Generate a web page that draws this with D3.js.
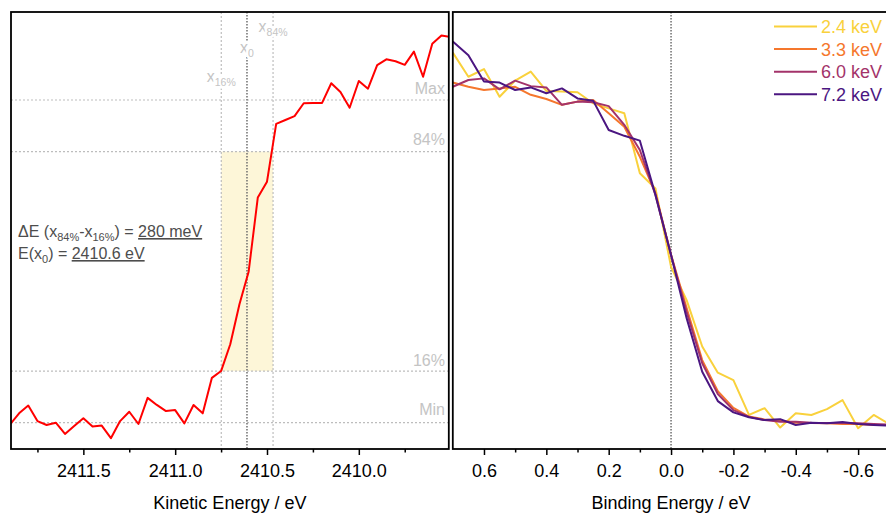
<!DOCTYPE html>
<html>
<head>
<meta charset="utf-8">
<script src="https://cdn.jsdelivr.net/npm/d3@7"></script>
<style>
  body { margin: 0; background: #fff; }
  svg { display: block; font-family: "Liberation Sans", Arial, sans-serif; }
</style>
</head>
<body>
<div id="chart"></div>
<script>
// ---- left panel: Fermi edge in kinetic energy (normalised, Min = 0, Max = 1) ----
const kineticEnergy = [2411.90, 2411.85, 2411.80, 2411.75, 2411.70, 2411.65, 2411.60, 2411.55, 2411.50, 2411.45,
    2411.40, 2411.35, 2411.30, 2411.25, 2411.20, 2411.15, 2411.10, 2411.05, 2411.00, 2410.95,
    2410.90, 2410.85, 2410.80, 2410.75, 2410.70, 2410.65, 2410.60, 2410.55, 2410.50, 2410.45,
    2410.40, 2410.35, 2410.30, 2410.25, 2410.20, 2410.15, 2410.10, 2410.05, 2410.00, 2409.95,
    2409.90, 2409.85, 2409.80, 2409.75, 2409.70, 2409.65, 2409.60, 2409.55, 2409.50];
const kineticIntensity = [-0.006, 0.029, 0.053, 0.005, -0.007, 0.000, -0.035, -0.010, 0.014, -0.012,
    -0.009, -0.048, 0.005, 0.034, -0.004, 0.077, 0.055, 0.036, 0.039, -0.002,
    0.055, 0.029, 0.139, 0.160, 0.243, 0.367, 0.468, 0.698, 0.747, 0.926,
    0.938, 0.950, 0.990, 0.991, 0.991, 1.052, 1.025, 0.976, 1.059, 1.035,
    1.108, 1.126, 1.120, 1.109, 1.150, 1.072, 1.174, 1.200, 1.195];

const levelNames = ["Max", "84%", "16%", "Min"];
const levelValues = [1, 0.84, 0.16, 0];
const edgeSubs = ["16%", "0", "84%"];
const edgeEnergies = [2410.749, 2410.609, 2410.467];

const keTicks = [2411.5, 2411.0, 2410.5, 2410.0];
const keMinorTicks = [2411.75, 2411.25, 2410.75, 2410.25, 2409.75];

// ---- right panel: edges vs binding energy for four photon energies ----
const bindingEnergy = [0.70, 0.65, 0.60, 0.55, 0.50, 0.45, 0.40, 0.35, 0.30, 0.25,
    0.20, 0.15, 0.10, 0.05, 0.00, -0.05, -0.10, -0.15, -0.20, -0.25,
    -0.30, -0.35, -0.40, -0.45, -0.50, -0.55, -0.60, -0.65, -0.70];
const edge24 = [1.147, 1.072, 1.096, 1.010, 1.060, 1.088, 1.028, 1.026, 1.024, 0.990,
    0.974, 0.959, 0.773, 0.726, 0.483, 0.380, 0.236, 0.155, 0.132, 0.024,
    0.045, -0.015, 0.029, 0.024, 0.042, 0.070, -0.017, 0.024, -0.004];
const edge33 = [1.054, 1.041, 1.031, 1.036, 1.041, 1.016, 1.003, 0.985, 0.995, 1.000,
    0.959, 0.917, 0.824, 0.712, 0.520, 0.355, 0.194, 0.098, 0.046, 0.019,
    0.010, 0.006, 0.000, -0.001, -0.002, -0.004, -0.004, -0.007, -0.007];
const edge60 = [1.041, 1.062, 1.067, 1.033, 1.060, 1.043, 1.039, 0.985, 0.995, 0.993,
    0.981, 0.923, 0.845, 0.706, 0.520, 0.343, 0.184, 0.089, 0.039, 0.018,
    0.008, 0.003, 0.003, 0.000, -0.001, -0.001, -0.002, -0.004, -0.006];
const edge72 = [1.181, 1.139, 1.057, 1.054, 1.031, 1.039, 1.021, 1.036, 1.005, 0.998,
    0.907, 0.889, 0.874, 0.706, 0.520, 0.324, 0.158, 0.067, 0.032, 0.017,
    0.008, 0.011, -0.007, 0.000, -0.002, 0.002, -0.004, -0.007, -0.009];

const seriesLabels = ["2.4 keV", "3.3 keV", "6.0 keV", "7.2 keV"];
const seriesValues = [edge24, edge33, edge60, edge72];
const seriesColors = ["#f9d13c", "#f5772d", "#a3336a", "#4b1681"];

const beTicks = [0.6, 0.4, 0.2, 0.0, -0.2, -0.4, -0.6];
const beMinorTicks = [0.5, 0.3, 0.1, -0.1, -0.3, -0.5];

// ---- layout ----
const width = 886;
const height = 515;
const plotTop = 12, plotBottom = 449;
const leftPanel = { x0: 11, x1: 448.8 };
const rightPanel = { x0: 452.8, x1: 889.3 };

const svg = d3.select("#chart").append("svg")
    .attr("width", width)
    .attr("height", height);

const xKE = d3.scaleLinear().domain([2411.894, 2409.51]).range([leftPanel.x0, leftPanel.x1]);
const xBE = d3.scaleLinear().domain([0.7, -0.7]).range([rightPanel.x0, rightPanel.x1]);
const y = d3.scaleLinear().domain([-0.0815, 1.2727]).range([plotBottom, plotTop]);

const defs = svg.append("defs");
defs.append("clipPath").attr("id", "clipL").append("rect")
    .attr("x", leftPanel.x0).attr("y", plotTop)
    .attr("width", leftPanel.x1 - leftPanel.x0).attr("height", plotBottom - plotTop);
defs.append("clipPath").attr("id", "clipR").append("rect")
    .attr("x", rightPanel.x0).attr("y", plotTop)
    .attr("width", rightPanel.x1 - rightPanel.x0).attr("height", plotBottom - plotTop);

const lightGrey = "#bdbdbd";
const darkGrey = "#6e6e6e";

// ---- left panel ----
const gL = svg.append("g").attr("clip-path", "url(#clipL)");

// shaded 16%-84% box
gL.append("rect")
    .attr("x", xKE(edgeEnergies[0]))
    .attr("width", xKE(edgeEnergies[2]) - xKE(edgeEnergies[0]))
    .attr("y", y(levelValues[1]))
    .attr("height", y(levelValues[2]) - y(levelValues[1]))
    .attr("fill", "#fdf6d8");

// horizontal reference levels
gL.selectAll("line.level")
    .data(levelValues)
    .enter().append("line")
    .attr("class", "level")
    .attr("x1", leftPanel.x0).attr("x2", leftPanel.x1)
    .attr("y1", d => y(d)).attr("y2", d => y(d))
    .attr("stroke", lightGrey).attr("stroke-width", 1.2)
    .attr("stroke-dasharray", "2,2");

// vertical edge markers
gL.selectAll("line.edge")
    .data(edgeEnergies)
    .enter().append("line")
    .attr("class", "edge")
    .attr("x1", d => xKE(d)).attr("x2", d => xKE(d))
    .attr("y1", plotTop).attr("y2", plotBottom)
    .attr("stroke", (d, i) => i === 1 ? darkGrey : lightGrey)
    .attr("stroke-width", (d, i) => i === 1 ? 1.5 : 1.2)
    .attr("stroke-dasharray", (d, i) => i === 1 ? "1.5,1.5" : "2,2");

// level labels
const levelOffset = [-6, -7, -5, -8];
svg.selectAll("text.level")
    .data(levelNames)
    .enter().append("text")
    .attr("class", "level")
    .attr("x", 445)
    .attr("y", (d, i) => y(levelValues[i]) + levelOffset[i])
    .attr("text-anchor", "end")
    .attr("font-size", 16)
    .attr("fill", "#c4c4c4")
    .text(d => d);

// edge labels x_16%, x_0, x_84% with a white halo that cuts the dotted lines
const edgeLabelY = [81.7, 52.7, 32.3];
edgeSubs.forEach((s, i) => {
    const t = svg.append("text")
        .attr("x", xKE(edgeEnergies[i]))
        .attr("y", edgeLabelY[i])
        .attr("text-anchor", "middle")
        .attr("fill", "#c4c4c4")
        .attr("stroke", "#fff").attr("stroke-width", 5)
        .attr("paint-order", "stroke")
        .attr("font-size", 16);
    t.append("tspan").text("x");
    t.append("tspan").attr("font-size", 10.5).attr("dy", 4).text(s);
});

// the red edge
const line = d3.line()
    .x((d, i) => xKE(kineticEnergy[i]))
    .y(d => y(d));

gL.append("path")
    .datum(kineticIntensity)
    .attr("fill", "none")
    .attr("stroke", "#ff0000")
    .attr("stroke-width", 2)
    .attr("stroke-linejoin", "round")
    .attr("d", line);

// result text
const note = svg.append("g").attr("fill", "#4d4d4d").attr("font-size", 16);
const t1 = note.append("text").attr("x", 18).attr("y", 237);
t1.append("tspan").text("\u0394E (x");
t1.append("tspan").attr("font-size", 11).attr("dy", 4).text("84%");
t1.append("tspan").attr("dy", -4).text("-x");
t1.append("tspan").attr("font-size", 11).attr("dy", 4).text("16%");
t1.append("tspan").attr("dy", -4).text(") = ");
t1.append("tspan").style("text-decoration", "underline").text("280 meV");

const t2 = note.append("text").attr("x", 18).attr("y", 259);
t2.append("tspan").text("E(x");
t2.append("tspan").attr("font-size", 11).attr("dy", 4).text("0");
t2.append("tspan").attr("dy", -4).text(") = ");
t2.append("tspan").style("text-decoration", "underline").text("2410.6 eV");

// ---- right panel ----
const gR = svg.append("g").attr("clip-path", "url(#clipR)");

gR.append("line")
    .attr("x1", xBE(0)).attr("x2", xBE(0))
    .attr("y1", plotTop).attr("y2", plotBottom)
    .attr("stroke", darkGrey).attr("stroke-width", 1.5)
    .attr("stroke-dasharray", "1.5,1.5");

const lineBE = d3.line()
    .x((d, i) => xBE(bindingEnergy[i]))
    .y(d => y(d));

gR.selectAll("path.series")
    .data(seriesValues)
    .enter().append("path")
    .attr("class", "series")
    .attr("fill", "none")
    .attr("stroke", (d, i) => seriesColors[i])
    .attr("stroke-width", 2)
    .attr("stroke-linejoin", "round")
    .attr("d", lineBE);

// legend
const legend = svg.append("g").attr("font-size", 18);
seriesLabels.forEach((s, i) => {
    const ly = 26.5 + i * 22.6;
    legend.append("line")
        .attr("x1", 774).attr("x2", 817)
        .attr("y1", ly).attr("y2", ly)
        .attr("stroke", seriesColors[i]).attr("stroke-width", 2);
    legend.append("text")
        .attr("x", 821).attr("y", ly)
        .attr("dy", "0.36em")
        .attr("fill", seriesColors[i])
        .text(s);
});

// ---- axes ----
function styleAxis(g) {
    g.select(".domain").remove();
    g.selectAll("line").attr("stroke", "#000").attr("stroke-width", 1.5);
    g.selectAll("text")
        .attr("font-size", 18)
        .attr("font-family", "'Liberation Sans', Arial, sans-serif")
        .attr("fill", "#000");
}

svg.append("g")
    .attr("transform", `translate(0,${plotBottom})`)
    .call(d3.axisBottom(xKE).tickValues(keTicks).tickFormat(d => d.toFixed(1))
        .tickSize(6).tickSizeOuter(0).tickPadding(9))
    .call(styleAxis);
svg.append("g")
    .attr("transform", `translate(0,${plotBottom})`)
    .call(d3.axisBottom(xKE).tickValues(keMinorTicks).tickFormat("").tickSize(3.5).tickSizeOuter(0))
    .call(styleAxis);

svg.append("g")
    .attr("transform", `translate(0,${plotBottom})`)
    .call(d3.axisBottom(xBE).tickValues(beTicks).tickFormat(d => d.toFixed(1))
        .tickSize(6).tickSizeOuter(0).tickPadding(9))
    .call(styleAxis);
svg.append("g")
    .attr("transform", `translate(0,${plotBottom})`)
    .call(d3.axisBottom(xBE).tickValues(beMinorTicks).tickFormat("").tickSize(3.5).tickSizeOuter(0))
    .call(styleAxis);

// axis titles
svg.append("text")
    .attr("x", (leftPanel.x0 + leftPanel.x1) / 2).attr("y", 509)
    .attr("text-anchor", "middle").attr("font-size", 18)
    .text("Kinetic Energy / eV");
svg.append("text")
    .attr("x", (rightPanel.x0 + rightPanel.x1) / 2).attr("y", 509)
    .attr("text-anchor", "middle").attr("font-size", 18)
    .text("Binding Energy / eV");

// panel frames
[leftPanel, rightPanel].forEach(p => {
    svg.append("rect")
        .attr("x", p.x0).attr("y", plotTop)
        .attr("width", p.x1 - p.x0).attr("height", plotBottom - plotTop)
        .attr("fill", "none")
        .attr("stroke", "#000")
        .attr("stroke-width", 1.8);
});
</script>
</body>
</html>
